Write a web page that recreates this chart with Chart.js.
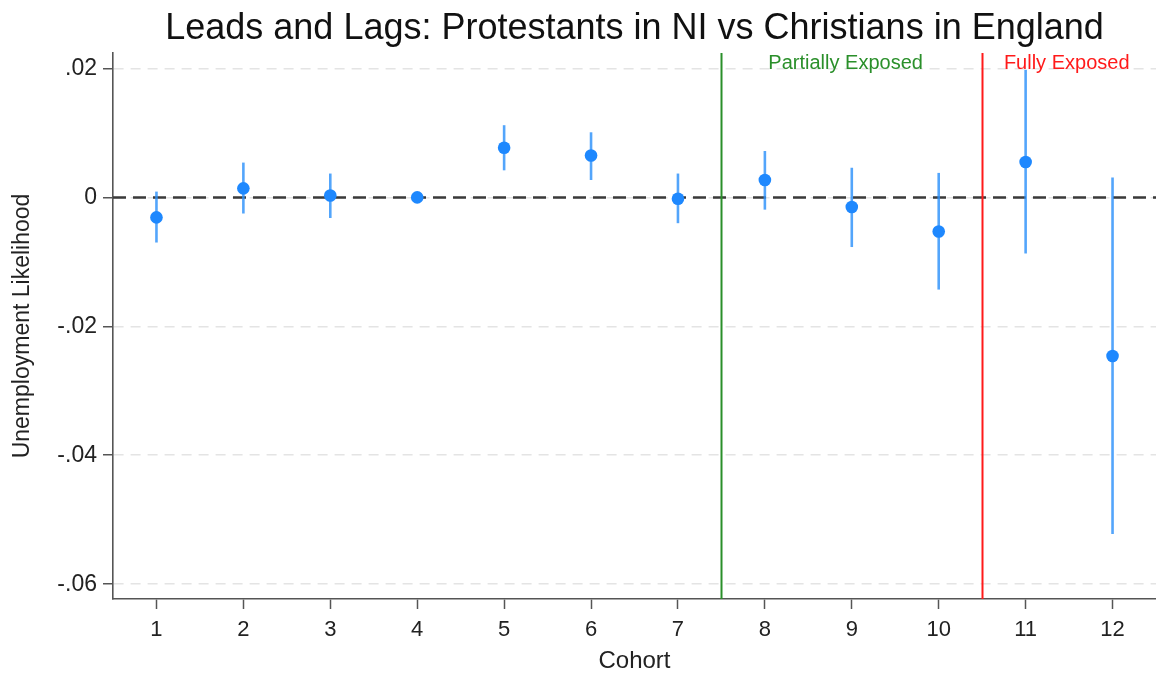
<!DOCTYPE html>
<html>
<head>
<meta charset="utf-8">
<script src="https://cdn.jsdelivr.net/npm/chart.js@4/dist/chart.umd.min.js"></script>
<style>
  html, body { margin: 0; padding: 0; background: #fff; }
  #wrap { width: 1156px; height: 675px; position: relative; }
</style>
</head>
<body>
<div id="wrap"><canvas id="c"></canvas></div>
<script>
// Cohort estimates with 95% confidence bounds
const cohorts   = [1, 2, 3, 4, 5, 6, 7, 8, 9, 10, 11, 12];
const estimates = [-0.0031, 0.0014, 0.0003, 0.0000, 0.0077, 0.0065, -0.0002, 0.0027, -0.0015, -0.0053, 0.0055, -0.0246];
const ciUpper   = [0.0009, 0.0054, 0.0037, 0.0000, 0.0112, 0.0101, 0.0037, 0.0072, 0.0046, 0.0038, 0.0198, 0.0031];
const ciLower   = [-0.0070, -0.0025, -0.0032, 0.0000, 0.0042, 0.0027, -0.0040, -0.0019, -0.0077, -0.0143, -0.0087, -0.0522];

// Axis ticks
const xTickValues = [1, 2, 3, 4, 5, 6, 7, 8, 9, 10, 11, 12];
const yTickValues = [-0.06, -0.04, -0.02, 0, 0.02];
const yTickLabels = ['-.06', '-.04', '-.02', '0', '.02'];

// Exposure thresholds and their labels
const markerLines  = [7.5, 10.5];
const markerColors = ['#2a8f2a', '#ff1a1a'];
const markerTexts  = ['Partially Exposed', 'Fully Exposed'];
const markerTextX  = [8.04, 10.75];

const FONT = "'Liberation Sans', Arial, sans-serif";

const refLines = {
  id: 'refLines',
  beforeDatasetsDraw(chart) {
    const { ctx, chartArea: a, scales: { x, y } } = chart;
    ctx.save();
    // horizontal reference at zero
    const y0 = y.getPixelForValue(0);
    ctx.strokeStyle = '#3a3a3a';
    ctx.lineWidth = 2.5;
    ctx.setLineDash([13, 7]);
    ctx.beginPath();
    ctx.moveTo(a.left, y0);
    ctx.lineTo(a.right, y0);
    ctx.stroke();
    ctx.setLineDash([]);
    // exposure thresholds
    markerLines.forEach((v, i) => {
      const px = Math.round(x.getPixelForValue(v)) + 0.5;
      ctx.strokeStyle = markerColors[i];
      ctx.lineWidth = 2;
      ctx.beginPath();
      ctx.moveTo(px, a.top);
      ctx.lineTo(px, a.bottom);
      ctx.stroke();
    });
    // confidence intervals
    ctx.strokeStyle = 'rgba(45,145,250,0.82)';
    ctx.lineWidth = 2.6;
    cohorts.forEach((c, i) => {
      if (ciUpper[i] === ciLower[i]) return;
      const px = x.getPixelForValue(c);
      ctx.beginPath();
      ctx.moveTo(px, y.getPixelForValue(ciUpper[i]));
      ctx.lineTo(px, y.getPixelForValue(ciLower[i]));
      ctx.stroke();
    });
    ctx.restore();
  },
  afterDraw(chart) {
    const { ctx, scales: { x, y } } = chart;
    ctx.save();
    ctx.font = '20px ' + FONT;
    ctx.textBaseline = 'middle';
    ctx.textAlign = 'left';
    markerTexts.forEach((t, i) => {
      ctx.fillStyle = markerColors[i];
      ctx.fillText(t, x.getPixelForValue(markerTextX[i]), y.getPixelForValue(0.0208));
    });
    ctx.restore();
  }
};

new Chart(document.getElementById('c'), {
  type: 'scatter',
  data: {
    datasets: [{
      data: cohorts.map((c, i) => ({ x: c, y: estimates[i] })),
      backgroundColor: '#1e88fe',
      borderColor: '#1e88fe',
      pointRadius: 6.3,
      pointHoverRadius: 6.3,
      borderWidth: 0
    }]
  },
  options: {
    responsive: true,
    maintainAspectRatio: false,
    devicePixelRatio: 1,
    animation: false,
    events: [],
    layout: { autoPadding: false, padding: { left: 0, right: 0, top: 0, bottom: 0 } },
    plugins: {
      legend: { display: false },
      tooltip: { enabled: false },
      title: {
        display: true,
        fullSize: false,
        text: 'Leads and Lags: Protestants in NI vs Christians in England',
        color: '#111',
        font: { family: FONT, size: 36, weight: 'normal', lineHeight: 1.2 },
        padding: { top: 7, bottom: 2.8 }
      }
    },
    scales: {
      x: {
        type: 'linear',
        min: 0.5,
        max: 12.5,
        afterBuildTicks(scale) { scale.ticks = xTickValues.map(v => ({ value: v })); },
        afterFit(scale) {
          scale.height = 76;
          scale.paddingLeft = 0; scale.paddingRight = 0;
        },
        ticks: {
          color: '#222',
          font: { family: FONT, size: 22 },
          padding: 8,
          maxRotation: 0,
          autoSkip: false,
          callback: v => String(v)
        },
        grid: {
          drawOnChartArea: false,
          drawTicks: true,
          tickLength: 10,
          tickColor: '#555',
          tickWidth: 1.5
        },
        border: { display: true, color: '#555', width: 1.6 },
        title: {
          display: true,
          text: 'Cohort',
          color: '#222',
          font: { family: FONT, size: 24, lineHeight: 1 },
          padding: { top: 0, bottom: 2 }
        }
      },
      y: {
        type: 'linear',
        min: -0.0623,
        max: 0.0224,
        afterBuildTicks(scale) { scale.ticks = yTickValues.map(v => ({ value: v })); },
        afterFit(scale) {
          scale.width = 113;
          scale.paddingTop = 0; scale.paddingBottom = 0;
        },
        ticks: {
          color: '#222',
          font: { family: FONT, size: 23 },
          padding: 6,
          callback: (v) => {
            const i = yTickValues.findIndex(t => Math.abs(t - v) < 1e-9);
            return i >= 0 ? yTickLabels[i] : '';
          }
        },
        grid: {
          drawOnChartArea: true,
          color: '#e4e4e4',
          lineWidth: 1.5,
          drawTicks: true,
          tickLength: 10,
          tickColor: '#555',
          tickWidth: 1.5,
          tickBorderDash: []
        },
        border: { display: true, color: '#555', width: 1.6, dash: [10, 7] },
        title: {
          display: true,
          text: 'Unemployment Likelihood',
          color: '#222',
          font: { family: FONT, size: 23, lineHeight: 1.2 },
          padding: { top: 9, bottom: 0 }
        }
      }
    }
  },
  plugins: [refLines]
});
</script>
</body>
</html>
